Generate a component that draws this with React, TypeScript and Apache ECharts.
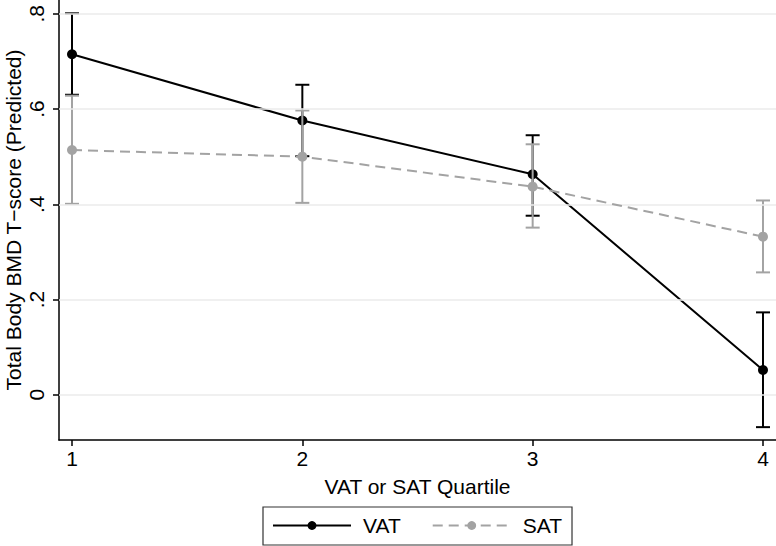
import React, { useEffect, useRef } from "react";
import * as echarts from "echarts";

const quartiles = [1, 2, 3, 4];
const vatMean = [0.715, 0.576, 0.463, 0.052];
const vatLow = [0.630, 0.501, 0.376, -0.068];
const vatHigh = [0.801, 0.651, 0.545, 0.173];
const satMean = [0.514, 0.500, 0.437, 0.332];
const satLow = [0.401, 0.403, 0.351, 0.257];
const satHigh = [0.628, 0.597, 0.526, 0.408];
const yTicks = [0, 0.2, 0.4, 0.6, 0.8];
const xTicks = [1, 2, 3, 4];

const FONT = "'Liberation Sans', Arial, Helvetica, sans-serif";
const BLACK = "#000000";
const GREY = "#a3a3a3";

function errorBars(color: string) {
  return (params: any, api: any) => {
    const x = api.value(0);
    const lo = api.coord([x, api.value(1)]);
    const hi = api.coord([x, api.value(2)]);
    const hw = 7;
    const style = { stroke: color, lineWidth: 2, fill: "none" };
    return {
      type: "group",
      children: [
        { type: "line", shape: { x1: lo[0], y1: lo[1], x2: hi[0], y2: hi[1] }, style },
        { type: "line", shape: { x1: lo[0] - hw, y1: lo[1], x2: lo[0] + hw, y2: lo[1] }, style },
        { type: "line", shape: { x1: hi[0] - hw, y1: hi[1], x2: hi[0] + hw, y2: hi[1] }, style },
      ],
    };
  };
}

export default function App() {
  const ref = useRef<HTMLDivElement>(null);
  useEffect(() => {
    if (!ref.current) return;
    const chart = echarts.init(ref.current, undefined, { renderer: "svg" });
    const fmtY = (v: number) => (Math.abs(v) < 1e-9 ? "0" : v.toFixed(1).replace(/^0\./, ".").replace(/^-0\./, "-."));
    chart.setOption({
      animation: false,
      backgroundColor: "#ffffff",
      textStyle: { fontFamily: FONT },
      grid: { left: 59, right: 0, top: 0, bottom: 106, containLabel: false, outerBoundsMode: "none" },
      xAxis: {
        type: "value",
        min: 0.9435,
        max: 4.0565,
        name: "VAT or SAT Quartile",
        nameLocation: "middle",
        nameGap: 36,
        nameMoveOverlap: false,
        nameTextStyle: { fontSize: 21, color: "#000", fontFamily: FONT },
        axisLine: { show: true, onZero: false, lineStyle: { color: "#000", width: 1.5 } },
        axisTick: { show: true, customValues: xTicks, length: 6, lineStyle: { color: "#000", width: 1.5 } },
        axisLabel: { customValues: xTicks, fontSize: 21, color: "#000", margin: 8, fontFamily: FONT },
        splitLine: { show: false },
      },
      yAxis: {
        type: "value",
        min: -0.095,
        max: 0.829,
        name: "Total Body BMD T\u2212score (Predicted)",
        nameLocation: "middle",
        nameGap: 35,
        nameMoveOverlap: false,
        nameTextStyle: { fontSize: 21, color: "#000", fontFamily: FONT },
        axisLine: { show: true, onZero: false, lineStyle: { color: "#000", width: 1.5 } },
        axisTick: { show: true, customValues: yTicks, length: 6, lineStyle: { color: "#000", width: 1.5 } },
        axisLabel: { customValues: yTicks, fontSize: 21, color: "#000", margin: 12, rotate: 90, formatter: fmtY, fontFamily: FONT },
        splitLine: { show: false },
      },
      legend: {
        data: ["VAT", "SAT"],
        left: 263,
        top: 507,
        orient: "horizontal",
        itemWidth: 78,
        itemHeight: 11,
        itemGap: 31,
        padding: [7, 10, 8, 9],
        borderColor: "#333333",
        borderWidth: 1.2,
        textStyle: { fontSize: 21, color: "#000", padding: [0, 0, 0, 7], lineHeight: 23, fontFamily: FONT },
      },
      series: [
        {
          name: "grid",
          type: "line",
          data: [],
          z: 0,
          silent: true,
          markLine: {
            silent: true,
            symbol: ["none", "none"],
            label: { show: false },
            lineStyle: { color: "#ebebeb", width: 1.5, type: "solid" },
            data: yTicks.map((v) => ({ yAxis: v })),
          },
        },
        {
          name: "VAT CI",
          type: "custom",
          renderItem: errorBars(BLACK),
          data: quartiles.map((q, i) => [q, vatLow[i], vatHigh[i]]),
          encode: { x: 0, y: [1, 2] },
          z: 2,
          silent: true,
        },
        {
          name: "VAT",
          type: "line",
          data: quartiles.map((q, i) => [q, vatMean[i]]),
          symbol: "circle",
          symbolSize: 10,
          color: BLACK,
          itemStyle: { color: BLACK },
          lineStyle: { color: BLACK, width: 2 },
          z: 3,
        },
        {
          name: "SAT CI",
          type: "custom",
          renderItem: errorBars(GREY),
          data: quartiles.map((q, i) => [q, satLow[i], satHigh[i]]),
          encode: { x: 0, y: [1, 2] },
          z: 4,
          silent: true,
        },
        {
          name: "SAT",
          type: "line",
          data: quartiles.map((q, i) => [q, satMean[i]]),
          symbol: "circle",
          symbolSize: 10,
          color: GREY,
          itemStyle: { color: GREY },
          lineStyle: { color: GREY, width: 2, type: [10, 6] },
          z: 5,
        },
      ],
    });
    return () => chart.dispose();
  }, []);
  return (
    <div
      ref={ref}
      style={{ position: "absolute", left: 0, top: 0, width: 776, height: 546, background: "#fff" }}
    />
  );
}
